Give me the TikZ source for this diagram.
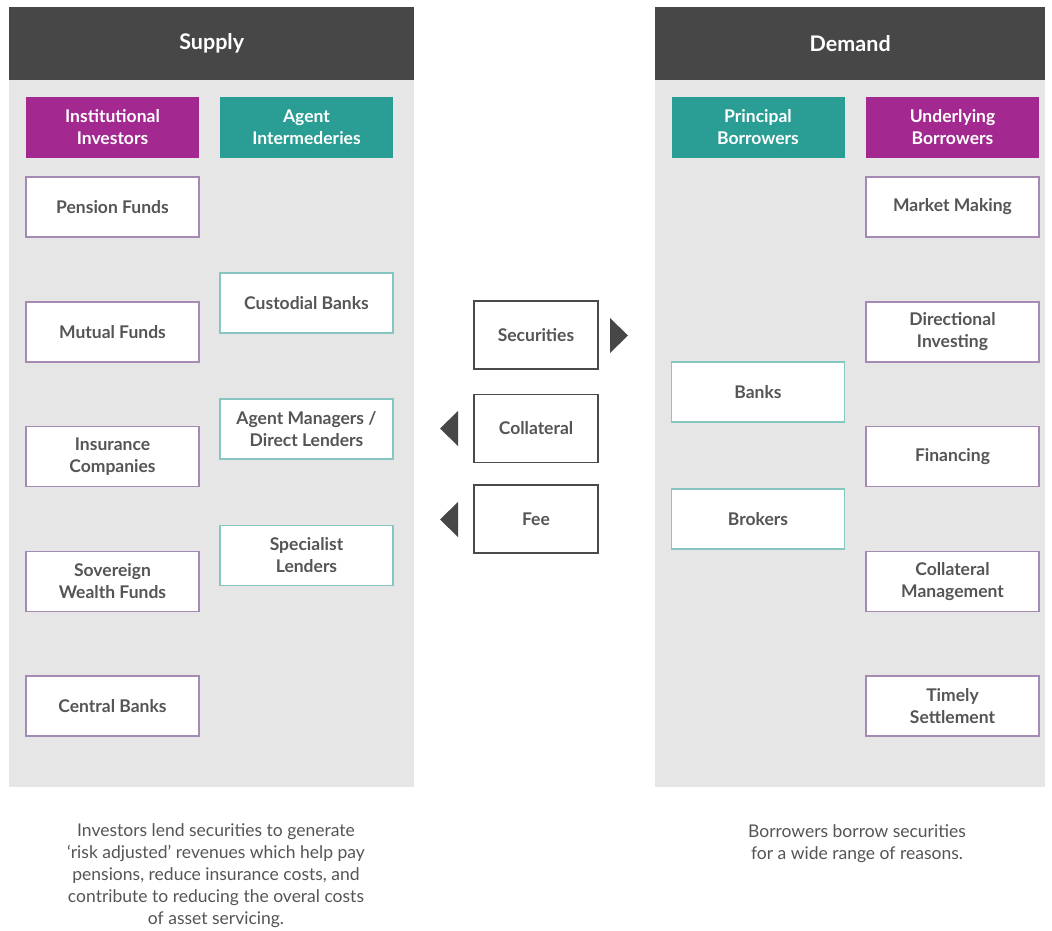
\documentclass[tikz,border=0pt]{standalone}
\usepackage{fontspec}
\setmainfont{Lato}
\definecolor{panelgrey}{HTML}{E6E6E6}
\definecolor{headgrey}{HTML}{474747}
\definecolor{purp}{HTML}{A3288F}
\definecolor{teal2}{HTML}{2A9D94}
\definecolor{purpline}{HTML}{A58BB3}
\definecolor{tealline}{HTML}{86C7C2}
\definecolor{txtgrey}{HTML}{555555}
\definecolor{midline}{HTML}{4A4A4A}
\tikzset{
  headbar/.style={fill=headgrey, draw=none, text=white, font=\fontsize{21.5}{24}\selectfont\bfseries},
  colhead/.style={minimum width=173pt, minimum height=61pt, inner sep=0pt, text=white, align=center, font=\fontsize{17.5}{22}\selectfont\bfseries},
  purphead/.style={colhead, fill=purp},
  tealhead/.style={colhead, fill=teal2},
  wbox/.style={minimum width=173pt, minimum height=60pt, inner sep=0pt, fill=white, line width=1.3pt, text=txtgrey, align=center, font=\fontsize{17.5}{22}\selectfont\bfseries},
  pbox/.style={wbox, draw=purpline},
  tbox/.style={wbox, draw=tealline},
  mbox/.style={wbox, draw=midline, line width=1.2pt, minimum width=124pt, minimum height=68pt},
  tri/.style={fill=headgrey, draw=none},
  note/.style={text=txtgrey, align=center, font=\fontsize{17.5}{22}\selectfont}
}
\begin{document}
\begin{tikzpicture}[x=1pt,y=-1pt]
\useasboundingbox[fill=white] (0,0) rectangle (1052,931);
% panels
\fill[panelgrey] (9,7) rectangle (414,787);
\fill[panelgrey] (655,7) rectangle (1045,787);
\node[headbar, minimum width=405pt, minimum height=73pt, inner sep=0pt, anchor=north west] (supply) at (9,7) {Supply};
\node[headbar, minimum width=390pt, minimum height=73pt, inner sep=0pt, anchor=north west] (demand) at (655,7) {Demand};
% supply column heads
\node[purphead] (inst) at (112.5,127.5) {Institutional\\Investors};
\node[tealhead] (agent) at (306.5,127.5) {Agent\\Intermederies};
% institutional investors
\node[pbox] (pension) at (112.5,207) {Pension Funds};
\node[pbox] (mutual) at (112.5,332) {Mutual Funds};
\node[pbox] (insur) at (112.5,456.5) {Insurance\\Companies};
\node[pbox] (sov) at (112.5,581.5) {Sovereign\\Wealth Funds};
\node[pbox] (central) at (112.5,706) {Central Banks};
% agent intermediaries
\node[tbox] (cust) at (306.5,303) {Custodial Banks};
\node[tbox] (agman) at (306.5,429) {Agent Managers /\\Direct Lenders};
\node[tbox] (spec) at (306.5,555.5) {Specialist\\Lenders};
% middle
\node[mbox] (sec) at (536,335) {Securities};
\node[mbox] (coll) at (536,428.5) {Collateral};
\node[mbox] (fee) at (536,519) {Fee};
\fill[tri] (610,318) -- (628,335.5) -- (610,353) -- cycle;
\fill[tri] (458,411) -- (440,428.5) -- (458,446) -- cycle;
\fill[tri] (458,502) -- (440,519.5) -- (458,537) -- cycle;
% demand column heads
\node[tealhead] (princ) at (758,127.5) {Principal\\Borrowers};
\node[purphead] (under) at (952.5,127.5) {Underlying\\Borrowers};
% principal borrowers
\node[tbox] (banks) at (758,392) {Banks};
\node[tbox] (brokers) at (758,519) {Brokers};
% underlying borrowers
\node[pbox] (mm) at (952.5,207) {Market Making};
\node[pbox] (dir) at (952.5,332) {Directional\\Investing};
\node[pbox] (fin) at (952.5,456.5) {Financing};
\node[pbox] (cm) at (952.5,581.5) {Collateral\\Management};
\node[pbox] (ts) at (952.5,706) {Timely\\Settlement};
% notes
\node[note] (lnote) at (216,876) {Investors lend securities to generate\\`risk adjusted' revenues which help pay\\pensions, reduce insurance costs, and\\contribute to reducing the overal costs\\of asset servicing.};
\node[note] (rnote) at (857,844) {Borrowers borrow securities\\for a wide range of reasons.};
\end{tikzpicture}
\end{document}
